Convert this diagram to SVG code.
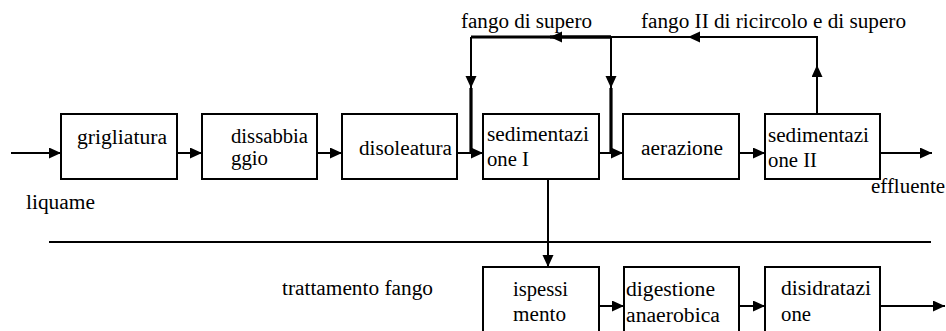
<svg xmlns="http://www.w3.org/2000/svg" width="946" height="331" viewBox="0 0 946 331">
<defs>
<marker id="ah" markerUnits="userSpaceOnUse" markerWidth="13" markerHeight="12" refX="12" refY="5.5" orient="auto">
<path d="M0,0 L12,5.5 L0,11 z" fill="#000"/>
</marker>
<style>
.box{fill:#fff;stroke:#000;stroke-width:2}
.c{fill:none;stroke:#000;stroke-width:2}
.k{fill:none;stroke:#000;stroke-width:3.2}
.a{marker-end:url(#ah)}
text{font-family:"Liberation Serif","Times New Roman",serif;font-size:20px;fill:#000}
</style>
</defs>
<rect width="946" height="331" fill="#fff"/>
<g id="connectors">
<path class="c a" d="M11,153 H61"/>
<path class="c a" d="M177,153 H202"/>
<path class="c a" d="M317,153 H342"/>
<path class="c a" d="M457,153 H483"/>
<path class="c a" d="M599,153 H623"/>
<path class="c a" d="M739,153 H765"/>
<path class="c a" d="M880,153 H932"/>
<path class="k" d="M611,37 H471"/>
<path class="k a" d="M611,37 H550"/>
<path class="c a" d="M471,37 V88"/>
<path class="k" d="M471,88 V153"/>
<path class="c a" d="M611,37 V88"/>
<path class="k" d="M611,88 V153"/>
<path class="c a" d="M817,114 V65"/>
<path class="c" d="M817,70 V37 H611"/>
<path class="c a" d="M817,37 H688"/>
<path class="c a" d="M548,179 V267"/>
<path class="c a" d="M599,306 H624"/>
<path class="c a" d="M739,306 H765"/>
<path class="c a" d="M880,306 H945"/>
<path class="c" d="M49,242 H931"/>
</g>
<g id="grigliatura"><rect class="box" x="61" y="114" width="116" height="65"/><text x="77" y="144" textLength="90" lengthAdjust="spacingAndGlyphs">grigliatura</text></g>
<g id="dissabbiaggio"><rect class="box" x="202" y="114" width="115" height="65"/><text x="231" y="143" textLength="77" lengthAdjust="spacingAndGlyphs">dissabbia</text><text x="231" y="165" textLength="37" lengthAdjust="spacingAndGlyphs">ggio</text></g>
<g id="disoleatura"><rect class="box" x="342" y="114" width="115" height="65"/><text x="359" y="155" textLength="93" lengthAdjust="spacingAndGlyphs">disoleatura</text></g>
<g id="sedimentazione1"><rect class="box" x="483" y="114" width="116" height="65"/><text x="487" y="141" textLength="102" lengthAdjust="spacingAndGlyphs">sedimentazi</text><text x="487" y="166" textLength="42" lengthAdjust="spacingAndGlyphs">one I</text></g>
<g id="aerazione"><rect class="box" x="623" y="114" width="116" height="65"/><text x="641" y="155" textLength="82" lengthAdjust="spacingAndGlyphs">aerazione</text></g>
<g id="sedimentazione2"><rect class="box" x="765" y="114" width="115" height="65"/><text x="768" y="142" textLength="101" lengthAdjust="spacingAndGlyphs">sedimentazi</text><text x="768" y="167" textLength="49" lengthAdjust="spacingAndGlyphs">one II</text></g>
<g id="ispessimento"><rect class="box" x="483" y="267" width="116" height="70"/><text x="513" y="296" textLength="55" lengthAdjust="spacingAndGlyphs">ispessi</text><text x="513" y="321" textLength="53" lengthAdjust="spacingAndGlyphs">mento</text></g>
<g id="digestione"><rect class="box" x="624" y="267" width="115" height="70"/><text x="626" y="296" textLength="89" lengthAdjust="spacingAndGlyphs">digestione</text><text x="626" y="322" textLength="94" lengthAdjust="spacingAndGlyphs">anaerobica</text></g>
<g id="disidratazione"><rect class="box" x="765" y="267" width="115" height="70"/><text x="781" y="295" textLength="90" lengthAdjust="spacingAndGlyphs">disidratazi</text><text x="781" y="321" textLength="30" lengthAdjust="spacingAndGlyphs">one</text></g>
<g id="labels">
<text x="461" y="28" textLength="131" lengthAdjust="spacingAndGlyphs">fango di supero</text>
<text x="641" y="28" textLength="265" lengthAdjust="spacingAndGlyphs">fango II di ricircolo e di supero</text>
<text x="871" y="193" textLength="74" lengthAdjust="spacingAndGlyphs">effluente</text>
<text x="26" y="209" textLength="69" lengthAdjust="spacingAndGlyphs">liquame</text>
<text x="282" y="295" textLength="151" lengthAdjust="spacingAndGlyphs">trattamento fango</text>
</g>
</svg>
